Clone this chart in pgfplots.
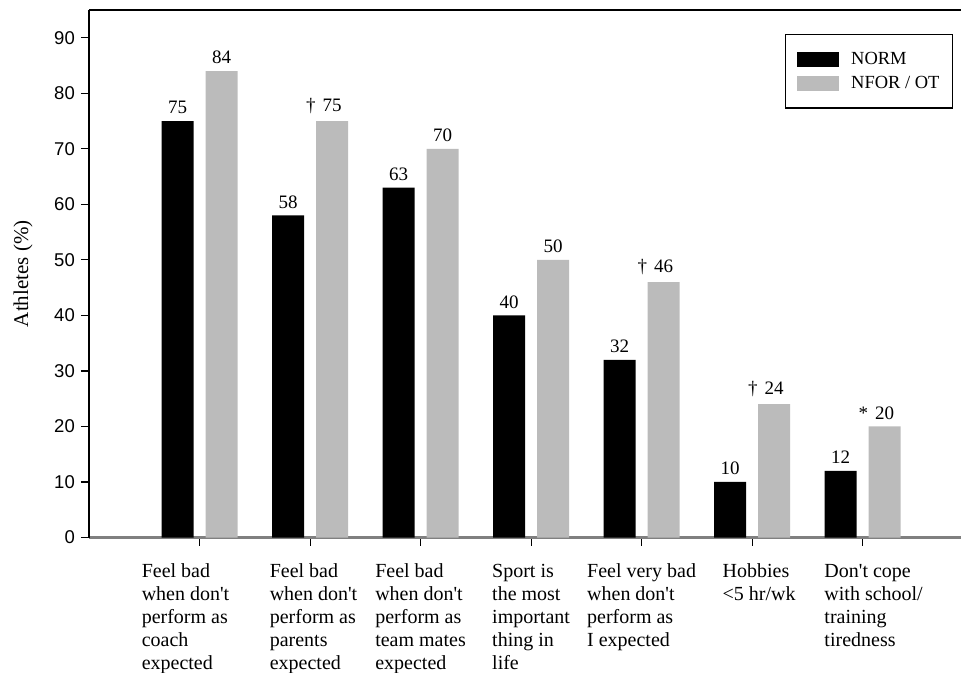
\documentclass[border=0pt]{standalone}
\usepackage{fontspec}
\setmainfont{Liberation Serif}
\newfontfamily\sansf{Liberation Sans}
\usepackage{pgfplots}
\pgfplotsset{compat=1.18}
\definecolor{barg}{HTML}{BBBBBB}
\definecolor{baseg}{HTML}{808080}
\newcommand\ap{\textquotesingle}
\newcommand\lab[1]{\begin{tabular}{@{}l@{}}#1\end{tabular}}
\begin{document}
\begin{tikzpicture}
\begin{axis}[
  scale only axis,
  width=872bp, height=527.5bp,
  xmin=-1, xmax=6.89,
  ymin=0, ymax=95,
  ybar,
  axis x line*=bottom,
  axis y line*=left,
  x axis line style={draw=baseg, line width=3bp, -},
  y axis line style={draw=black, line width=1.3bp, -},
  ytick={0,10,...,90},
  xtick={0,...,6},
  tick align=outside,
  x tick style={draw=black, line width=1bp},
  y tick style={draw=black, line width=1.2bp},
  major tick length=8bp,
  yticklabel style={font=\sansf\fontsize{18.5bp}{20bp}\selectfont, inner sep=0pt, xshift=-6bp},
  /pgf/number format/assume math mode=true,
  xticklabel style={font=\fontsize{20bp}{23bp}\selectfont, anchor=north, yshift=-16bp, inner sep=0pt},
  xticklabels={
    {\kern-28bp\lab{Feel bad\\when don\ap t\\perform as\\coach\\expected}},
    {\lab{Feel bad\\when don\ap t\\perform as\\parents\\expected}\kern-7bp},
    {\lab{Feel bad\\when don\ap t\\perform as\\team mates\\expected}},
    {\lab{Sport is\\the most\\important\\thing in\\life}},
    {\lab{Feel very bad\\when don\ap t\\perform as\\I expected}},
    {\lab{Hobbies\\<5 hr/wk}\kern-14bp},
    {\lab{Don\ap t cope\\with school/\\training\\tiredness}\kern-22bp}
  },
  ylabel={Athletes (\%)},
  ylabel style={font=\fontsize{21bp}{24bp}\selectfont, at={(axis description cs:-0.0757,0.5)}, anchor=center},
  bar width=32bp,
  nodes near coords,
  point meta=explicit symbolic,
  every node near coord/.append style={font=\fontsize{19bp}{21bp}\selectfont, anchor=south, inner sep=0pt, yshift=7bp},
  legend style={at={(rel axis cs:0.991,0.9545)}, anchor=north east, draw=black, line width=1.2bp,
    font=\fontsize{18.5bp}{20bp}\selectfont, inner xsep=12bp, inner ysep=17bp, row sep=8bp, column sep=11bp,
    nodes={inner sep=1bp}},
  legend cell align=left,
  legend image code/.code={\path[#1,draw=none] (0bp,-7.5bp) rectangle (42bp,7.5bp);},
]
\addplot[fill=black, draw=none, bar shift=-22bp] coordinates {
  (0,75) [75] (1,58) [58] (2,63) [63] (3,40) [40] (4,32) [32] (5,10) [10] (6,12) [12]
};
\addlegendentry{NORM}
\addplot[fill=barg, draw=none, bar shift=22bp] coordinates {
  (0,84) [84] (1,75) [\llap{†\hspace{7bp}}75] (2,70) [70] (3,50) [50] (4,46) [\llap{†\hspace{7bp}}46] (5,24) [\llap{†\hspace{7bp}}24] (6,20) [\llap{*\hspace{7bp}}20]
};
\addlegendentry{NFOR / OT}
\draw[black, line width=1.3bp] (rel axis cs:0,1) -- (rel axis cs:1,1);
\end{axis}
\pgfresetboundingbox
\path ([xshift=-89bp,yshift=-135.5bp]current axis.south west) rectangle ([yshift=10bp]current axis.north east);
\end{tikzpicture}
\end{document}
